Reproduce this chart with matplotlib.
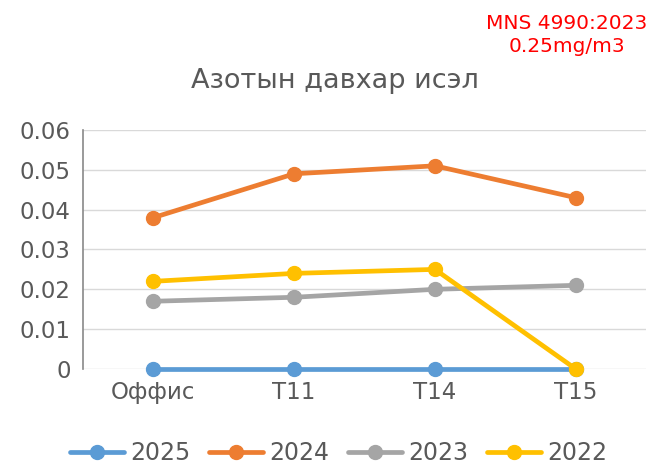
import matplotlib.pyplot as plt

plt.rcParams['font.family'] = ['DejaVu Sans']

categories = ['Оффис', 'T11', 'T14', 'T15']
years = ['2025', '2024', '2023', '2022']
v2025 = [0, 0, 0, 0]
v2024 = [0.038, 0.049, 0.051, 0.043]
v2023 = [0.017, 0.018, 0.020, 0.021]
v2022 = [0.022, 0.024, 0.025, 0]
colors = ['#5B9BD5', '#ED7D31', '#A5A5A5', '#FFC000']

fig = plt.figure(figsize=(6.51, 4.65), dpi=100)
ax = fig.add_axes([0.1275, 0.2065, 0.865, 0.514])

x = range(len(categories))
for name, vals, c in zip(years, [v2025, v2024, v2023, v2022], colors):
    ax.plot(x, vals, color=c, lw=3.4, marker='o', markersize=10, label=name,
            solid_capstyle='round', zorder=3, clip_on=False)

ax.set_xlim(-0.5, 3.5)
ax.set_ylim(0, 0.06)
ax.set_yticks([0, 0.01, 0.02, 0.03, 0.04, 0.05, 0.06])
ax.set_yticklabels(['0', '0.01', '0.02', '0.03', '0.04', '0.05', '0.06'])
ax.set_xticks(list(x))
ax.set_xticklabels(categories)
ax.tick_params(axis='both', length=0, labelsize=16.5, colors='#595959', pad=9)
ax.grid(axis='y', color='#D9D9D9', lw=1)
ax.set_axisbelow(True)
for s in ['top', 'right', 'bottom']:
    ax.spines[s].set_visible(False)
ax.spines['left'].set_color('#898989')
ax.spines['left'].set_linewidth(1.2)

fig.text(0.514, 0.825, 'Азотын давхар исэл', ha='center', va='center',
         fontsize=19.5, color='#595959')
fig.text(0.871, 0.925, 'MNS 4990:2023\n0.25mg/m3', ha='center', va='center',
         fontsize=14.5, color='#FF0000', linespacing=1.3)

fig.legend(loc='center', bbox_to_anchor=(0.52, 0.025), ncol=4, frameon=False,
           fontsize=17, labelcolor='#595959', handlelength=2.3,
           columnspacing=0.8, handletextpad=0.25)

fig.savefig('out.png', dpi=100)
